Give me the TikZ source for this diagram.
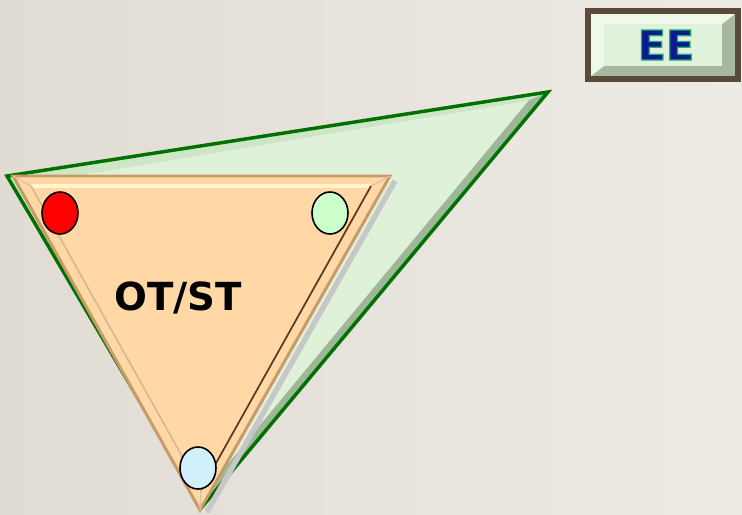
\documentclass[tikz,border=0pt]{standalone}
\usepackage{fontspec}
\setsansfont{DejaVu Sans}
\usepackage{tikz}

\definecolor{bgleft}{HTML}{E0DCD4}
\definecolor{bgright}{HTML}{EEEBE5}
\definecolor{leafline}{HTML}{007000}
\definecolor{leaffill}{HTML}{E0F1DA}
\definecolor{leafband}{HTML}{CDE6C6}
\definecolor{leafdark}{HTML}{9DB897}
\definecolor{peach}{HTML}{FFD8A6}
\definecolor{peachedge}{HTML}{C89A68}
\definecolor{peachhi}{HTML}{FFF4CC}
\definecolor{peachdark}{HTML}{5A3A20}
\definecolor{boxframe}{HTML}{5A4A3C}
\definecolor{boxface}{HTML}{E0F2DC}
\definecolor{boxhi}{HTML}{EEF9EA}
\definecolor{boxlo}{HTML}{A8B8A0}
\definecolor{eeblue}{HTML}{0C1A90}

\begin{document}
\begin{tikzpicture}[
    x=0.75pt, y=-0.75pt,
    corner/.style={draw=black, line width=1.2pt},
    lbl/.style={font=\sffamily\bfseries\fontsize{29}{30}\selectfont, inner sep=0pt}
  ]
    % background
    \useasboundingbox (0,0) rectangle (742,514);
    \shade[left color=bgleft, right color=bgright] (0,0) rectangle (742,514);

    % green triangle
    \coordinate (g1) at (7,176);
    \coordinate (g2) at (548,92);
    \coordinate (g3) at (202,507);
    \coordinate (h1) at (34,183);
    \coordinate (h2) at (528,101);
    \coordinate (h3) at (216,478);
    \fill[leafband] (g1) -- (g2) -- (g3) -- cycle;
    \fill[leafdark] (g2) -- (g3) -- (h3) -- (h2) -- cycle;
    \fill[leaffill] (h1) -- (h2) -- (h3) -- cycle;
    \draw[leafline, line width=2.6pt, line join=miter] (g1) -- (g2) -- (g3) -- cycle;

    % shadow of the orange triangle
    \draw[black!22, line width=4pt] (395,181) -- (207,512);

    % orange triangle
    \coordinate (o1) at (13,176);
    \coordinate (o2) at (390,176);
    \coordinate (o3) at (200,510);
    \coordinate (p1) at (31,186);
    \coordinate (p2) at (371,186);
    \coordinate (p3) at (201,490);
    \fill[peach] (o1) -- (o2) -- (o3) -- cycle;
    \draw[peachedge, line width=2.2pt, line join=miter] (o1) -- (o2) -- (o3) -- cycle;
    \draw[peachedge!60, line width=1pt] (o1) -- (p1) (o2) -- (p2) (o3) -- (p3);
    \draw[peachhi, line width=2.5pt] (p1) -- (p2);
    \draw[peachdark, line width=1.3pt] (p2) -- (p3);
    \draw[peachedge!70, line width=1.3pt] (p1) -- (p3);

    % corner markers
    \draw[corner, fill=red] (60,213) ellipse [x radius=18, y radius=21];
    \draw[corner, fill=green!20] (330,213) ellipse [x radius=18, y radius=21];
    \draw[corner, fill=cyan!18] (198,468) ellipse [x radius=18, y radius=21];

    \node[lbl] (ost) at (178,298) {OT/ST};

    % EE button
    \fill[boxframe] (585,8) rectangle (741,82);
    \fill[boxlo] (591,14) rectangle (735,76);
    \fill[boxhi] (591,14) -- (735,14) -- (722,24) -- (604,24) -- (604,66) -- (591,76) -- cycle;
    \fill[boxface] (604,24) rectangle (722,66);
    \node[font=\sffamily\bfseries\fontsize{31}{32}\selectfont, text=eeblue] (ee) at (666,45)
      {\special{pdf:literal direct 2 Tr 0.9 w 0.13 0.69 0.44 RG}EE\special{pdf:literal direct 0 Tr}};
  \end{tikzpicture}
\end{document}
